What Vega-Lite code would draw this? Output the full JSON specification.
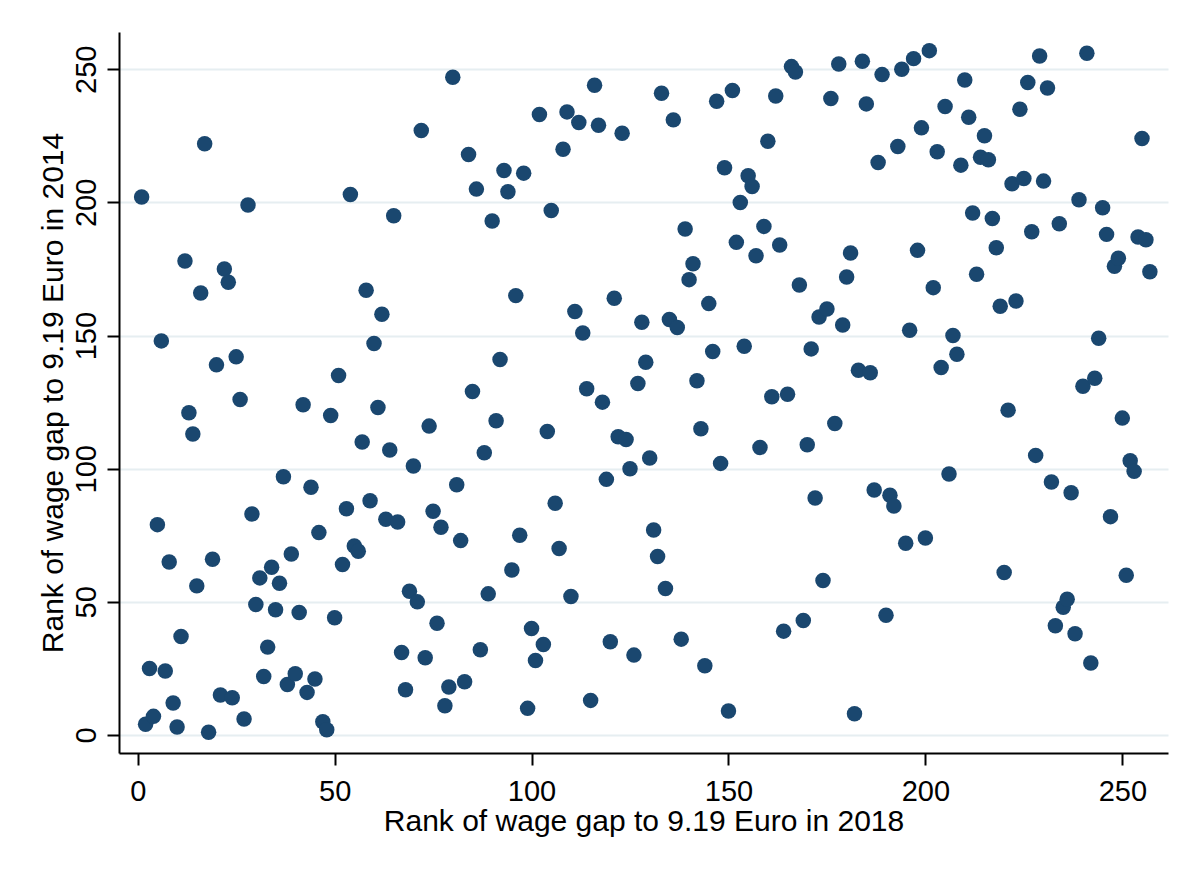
{
  "$schema": "https://vega.github.io/schema/vega-lite/v6.json",
  "width": 1049,
  "height": 721,
  "autosize": "none",
  "padding": {"left": 119, "top": 32, "right": 32, "bottom": 120},
  "background": "white",
  "config": {"view": {"stroke": null}, "font": "Liberation Sans"},
  "data": {"values": [
    {"r2018":1,"r2014":202},{"r2018":2,"r2014":4},{"r2018":3,"r2014":25},{"r2018":4,"r2014":7},{"r2018":5,"r2014":79},
    {"r2018":6,"r2014":148},{"r2018":7,"r2014":24},{"r2018":8,"r2014":65},{"r2018":9,"r2014":12},{"r2018":10,"r2014":3},
    {"r2018":11,"r2014":37},{"r2018":12,"r2014":178},{"r2018":13,"r2014":121},{"r2018":14,"r2014":113},{"r2018":15,"r2014":56},
    {"r2018":16,"r2014":166},{"r2018":17,"r2014":222},{"r2018":18,"r2014":1},{"r2018":19,"r2014":66},{"r2018":20,"r2014":139},
    {"r2018":21,"r2014":15},{"r2018":22,"r2014":175},{"r2018":23,"r2014":170},{"r2018":24,"r2014":14},{"r2018":25,"r2014":142},
    {"r2018":26,"r2014":126},{"r2018":27,"r2014":6},{"r2018":28,"r2014":199},{"r2018":29,"r2014":83},{"r2018":30,"r2014":49},
    {"r2018":31,"r2014":59},{"r2018":32,"r2014":22},{"r2018":33,"r2014":33},{"r2018":34,"r2014":63},{"r2018":35,"r2014":47},
    {"r2018":36,"r2014":57},{"r2018":37,"r2014":97},{"r2018":38,"r2014":19},{"r2018":39,"r2014":68},{"r2018":40,"r2014":23},
    {"r2018":41,"r2014":46},{"r2018":42,"r2014":124},{"r2018":43,"r2014":16},{"r2018":44,"r2014":93},{"r2018":45,"r2014":21},
    {"r2018":46,"r2014":76},{"r2018":47,"r2014":5},{"r2018":48,"r2014":2},{"r2018":49,"r2014":120},{"r2018":50,"r2014":44},
    {"r2018":51,"r2014":135},{"r2018":52,"r2014":64},{"r2018":53,"r2014":85},{"r2018":54,"r2014":203},{"r2018":55,"r2014":71},
    {"r2018":56,"r2014":69},{"r2018":57,"r2014":110},{"r2018":58,"r2014":167},{"r2018":59,"r2014":88},{"r2018":60,"r2014":147},
    {"r2018":61,"r2014":123},{"r2018":62,"r2014":158},{"r2018":63,"r2014":81},{"r2018":64,"r2014":107},{"r2018":65,"r2014":195},
    {"r2018":66,"r2014":80},{"r2018":67,"r2014":31},{"r2018":68,"r2014":17},{"r2018":69,"r2014":54},{"r2018":70,"r2014":101},
    {"r2018":71,"r2014":50},{"r2018":72,"r2014":227},{"r2018":73,"r2014":29},{"r2018":74,"r2014":116},{"r2018":75,"r2014":84},
    {"r2018":76,"r2014":42},{"r2018":77,"r2014":78},{"r2018":78,"r2014":11},{"r2018":79,"r2014":18},{"r2018":80,"r2014":247},
    {"r2018":81,"r2014":94},{"r2018":82,"r2014":73},{"r2018":83,"r2014":20},{"r2018":84,"r2014":218},{"r2018":85,"r2014":129},
    {"r2018":86,"r2014":205},{"r2018":87,"r2014":32},{"r2018":88,"r2014":106},{"r2018":89,"r2014":53},{"r2018":90,"r2014":193},
    {"r2018":91,"r2014":118},{"r2018":92,"r2014":141},{"r2018":93,"r2014":212},{"r2018":94,"r2014":204},{"r2018":95,"r2014":62},
    {"r2018":96,"r2014":165},{"r2018":97,"r2014":75},{"r2018":98,"r2014":211},{"r2018":99,"r2014":10},{"r2018":100,"r2014":40},
    {"r2018":101,"r2014":28},{"r2018":102,"r2014":233},{"r2018":103,"r2014":34},{"r2018":104,"r2014":114},{"r2018":105,"r2014":197},
    {"r2018":106,"r2014":87},{"r2018":107,"r2014":70},{"r2018":108,"r2014":220},{"r2018":109,"r2014":234},{"r2018":110,"r2014":52},
    {"r2018":111,"r2014":159},{"r2018":112,"r2014":230},{"r2018":113,"r2014":151},{"r2018":114,"r2014":130},{"r2018":115,"r2014":13},
    {"r2018":116,"r2014":244},{"r2018":117,"r2014":229},{"r2018":118,"r2014":125},{"r2018":119,"r2014":96},{"r2018":120,"r2014":35},
    {"r2018":121,"r2014":164},{"r2018":122,"r2014":112},{"r2018":123,"r2014":226},{"r2018":124,"r2014":111},{"r2018":125,"r2014":100},
    {"r2018":126,"r2014":30},{"r2018":127,"r2014":132},{"r2018":128,"r2014":155},{"r2018":129,"r2014":140},{"r2018":130,"r2014":104},
    {"r2018":131,"r2014":77},{"r2018":132,"r2014":67},{"r2018":133,"r2014":241},{"r2018":134,"r2014":55},{"r2018":135,"r2014":156},
    {"r2018":136,"r2014":231},{"r2018":137,"r2014":153},{"r2018":138,"r2014":36},{"r2018":139,"r2014":190},{"r2018":140,"r2014":171},
    {"r2018":141,"r2014":177},{"r2018":142,"r2014":133},{"r2018":143,"r2014":115},{"r2018":144,"r2014":26},{"r2018":145,"r2014":162},
    {"r2018":146,"r2014":144},{"r2018":147,"r2014":238},{"r2018":148,"r2014":102},{"r2018":149,"r2014":213},{"r2018":150,"r2014":9},
    {"r2018":151,"r2014":242},{"r2018":152,"r2014":185},{"r2018":153,"r2014":200},{"r2018":154,"r2014":146},{"r2018":155,"r2014":210},
    {"r2018":156,"r2014":206},{"r2018":157,"r2014":180},{"r2018":158,"r2014":108},{"r2018":159,"r2014":191},{"r2018":160,"r2014":223},
    {"r2018":161,"r2014":127},{"r2018":162,"r2014":240},{"r2018":163,"r2014":184},{"r2018":164,"r2014":39},{"r2018":165,"r2014":128},
    {"r2018":166,"r2014":251},{"r2018":167,"r2014":249},{"r2018":168,"r2014":169},{"r2018":169,"r2014":43},{"r2018":170,"r2014":109},
    {"r2018":171,"r2014":145},{"r2018":172,"r2014":89},{"r2018":173,"r2014":157},{"r2018":174,"r2014":58},{"r2018":175,"r2014":160},
    {"r2018":176,"r2014":239},{"r2018":177,"r2014":117},{"r2018":178,"r2014":252},{"r2018":179,"r2014":154},{"r2018":180,"r2014":172},
    {"r2018":181,"r2014":181},{"r2018":182,"r2014":8},{"r2018":183,"r2014":137},{"r2018":184,"r2014":253},{"r2018":185,"r2014":237},
    {"r2018":186,"r2014":136},{"r2018":187,"r2014":92},{"r2018":188,"r2014":215},{"r2018":189,"r2014":248},{"r2018":190,"r2014":45},
    {"r2018":191,"r2014":90},{"r2018":192,"r2014":86},{"r2018":193,"r2014":221},{"r2018":194,"r2014":250},{"r2018":195,"r2014":72},
    {"r2018":196,"r2014":152},{"r2018":197,"r2014":254},{"r2018":198,"r2014":182},{"r2018":199,"r2014":228},{"r2018":200,"r2014":74},
    {"r2018":201,"r2014":257},{"r2018":202,"r2014":168},{"r2018":203,"r2014":219},{"r2018":204,"r2014":138},{"r2018":205,"r2014":236},
    {"r2018":206,"r2014":98},{"r2018":207,"r2014":150},{"r2018":208,"r2014":143},{"r2018":209,"r2014":214},{"r2018":210,"r2014":246},
    {"r2018":211,"r2014":232},{"r2018":212,"r2014":196},{"r2018":213,"r2014":173},{"r2018":214,"r2014":217},{"r2018":215,"r2014":225},
    {"r2018":216,"r2014":216},{"r2018":217,"r2014":194},{"r2018":218,"r2014":183},{"r2018":219,"r2014":161},{"r2018":220,"r2014":61},
    {"r2018":221,"r2014":122},{"r2018":222,"r2014":207},{"r2018":223,"r2014":163},{"r2018":224,"r2014":235},{"r2018":225,"r2014":209},
    {"r2018":226,"r2014":245},{"r2018":227,"r2014":189},{"r2018":228,"r2014":105},{"r2018":229,"r2014":255},{"r2018":230,"r2014":208},
    {"r2018":231,"r2014":243},{"r2018":232,"r2014":95},{"r2018":233,"r2014":41},{"r2018":234,"r2014":192},{"r2018":235,"r2014":48},
    {"r2018":236,"r2014":51},{"r2018":237,"r2014":91},{"r2018":238,"r2014":38},{"r2018":239,"r2014":201},{"r2018":240,"r2014":131},
    {"r2018":241,"r2014":256},{"r2018":242,"r2014":27},{"r2018":243,"r2014":134},{"r2018":244,"r2014":149},{"r2018":245,"r2014":198},
    {"r2018":246,"r2014":188},{"r2018":247,"r2014":82},{"r2018":248,"r2014":176},{"r2018":249,"r2014":179},{"r2018":250,"r2014":119},
    {"r2018":251,"r2014":60},{"r2018":252,"r2014":103},{"r2018":253,"r2014":99},{"r2018":254,"r2014":187},{"r2018":255,"r2014":224},
    {"r2018":256,"r2014":186},{"r2018":257,"r2014":174}
  ]},
  "mark": {"type": "circle", "color": "#1a476f", "opacity": 1, "size": 240},
  "encoding": {
    "x": {
      "field": "r2018", "type": "quantitative",
      "scale": {"domain": [-4.75, 261.6], "nice": false, "zero": false},
      "axis": {
        "title": "Rank of wage gap to 9.19 Euro in 2018",
        "values": [0, 50, 100, 150, 200, 250],
        "grid": false,
        "domainColor": "black", "domainWidth": 2,
        "tickColor": "black", "tickWidth": 2, "tickSize": 12,
        "labelFont": "Liberation Sans", "labelFontSize": 29, "labelColor": "black",
        "labelBaseline": "alphabetic", "labelPadding": 35, "labelFlush": false,
        "titleFont": "Liberation Sans", "titleFontSize": 30, "titleFontWeight": "normal", "titleColor": "black",
        "titleBaseline": "alphabetic", "titleY": 77
      }
    },
    "y": {
      "field": "r2014", "type": "quantitative",
      "scale": {"domain": [-6.76, 264.0], "nice": false, "zero": false},
      "axis": {
        "title": "Rank of wage gap to 9.19 Euro in 2014",
        "values": [0, 50, 100, 150, 200, 250],
        "grid": true, "gridColor": "#e6eef1", "gridWidth": 2,
        "domainColor": "black", "domainWidth": 2,
        "tickColor": "black", "tickWidth": 2, "tickSize": 12,
        "labelFont": "Liberation Sans", "labelFontSize": 29, "labelColor": "black",
        "labelAngle": -90, "labelAlign": "center", "labelBaseline": "alphabetic", "labelPadding": 12, "labelFlush": false,
        "titleFont": "Liberation Sans", "titleFontSize": 30, "titleFontWeight": "normal", "titleColor": "black",
        "titleAngle": -90, "titleBaseline": "alphabetic", "titleAlign": "center", "titleX": -57
      }
    }
  }
}
